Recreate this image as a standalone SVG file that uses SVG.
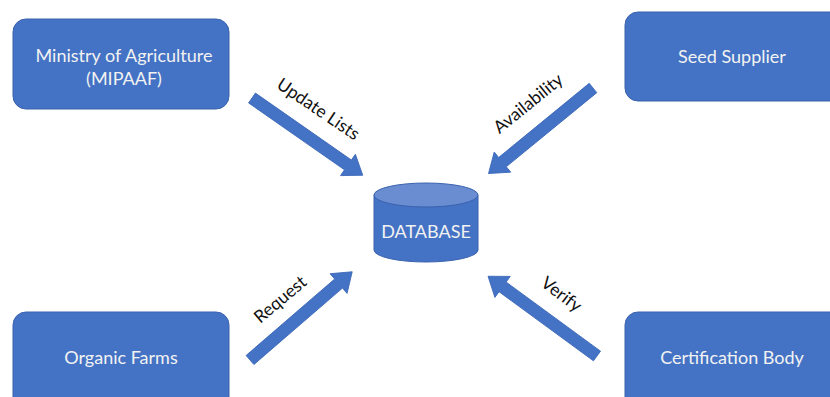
<svg xmlns="http://www.w3.org/2000/svg" xmlns:xlink="http://www.w3.org/1999/xlink" width="830" height="397" viewBox="0 0 830 397">
<style>
.box{fill:#4472C4;stroke:#3A62AE;stroke-width:1}
.bt{font-family:Lato,"Open Sans",sans-serif;font-size:18px;fill:#F2F2F2;text-anchor:middle}
.lbl{font-family:Lato,"Open Sans",sans-serif;font-size:17.5px;fill:#111;text-anchor:middle}
.arr{fill:#4472C4;stroke:#3A66B8;stroke-width:0.8}
</style>
<defs>
<path id="blk" class="arr" d="M0,-6 L117,-6 L117,-13 L135,0 L117,13 L117,6 L0,6 Z"/>
</defs>
<rect width="830" height="397" fill="#FFFFFF"/>
<g id="ministry">
<rect class="box" x="13" y="19" width="216" height="90" rx="13"/>
<text class="bt" x="124" y="62">Ministry of Agriculture</text>
<text class="bt" x="124" y="85">(MIPAAF)</text>
</g>
<g id="seed">
<rect class="box" x="625" y="12" width="220" height="89" rx="13"/>
<text class="bt" x="732" y="63">Seed Supplier</text>
</g>
<g id="organic">
<rect class="box" x="13" y="312" width="216" height="100" rx="13"/>
<text class="bt" x="121" y="364">Organic Farms</text>
</g>
<g id="cert">
<rect class="box" x="625" y="312" width="220" height="100" rx="13"/>
<text class="bt" x="732" y="364">Certification Body</text>
</g>
<g id="database">
<path d="M374,195 L374,250 A52,12 0 0 0 478,250 L478,195 Z" fill="#4472C4" stroke="#3A62AE" stroke-width="1"/>
<ellipse cx="426" cy="195" rx="52" ry="12" fill="#6A8DD2" stroke="#3A62AE" stroke-width="1"/>
<text class="bt" x="426" y="238">DATABASE</text>
</g>
<g id="connectors">
<use xlink:href="#blk" transform="translate(252,98) rotate(34.9)"/>
<use xlink:href="#blk" transform="translate(593,88) rotate(140.7)"/>
<use xlink:href="#blk" transform="translate(250,360) rotate(-40.8)"/>
<use xlink:href="#blk" transform="translate(597,356) rotate(-143.8)"/>
<text class="lbl" transform="translate(315,114) rotate(34)">Update Lists</text>
<text class="lbl" transform="translate(532,108) rotate(-39)">Availability</text>
<text class="lbl" transform="translate(284,304) rotate(-40)">Request</text>
<text class="lbl" transform="translate(558,299) rotate(37)">Verify</text>
</g>
</svg>
